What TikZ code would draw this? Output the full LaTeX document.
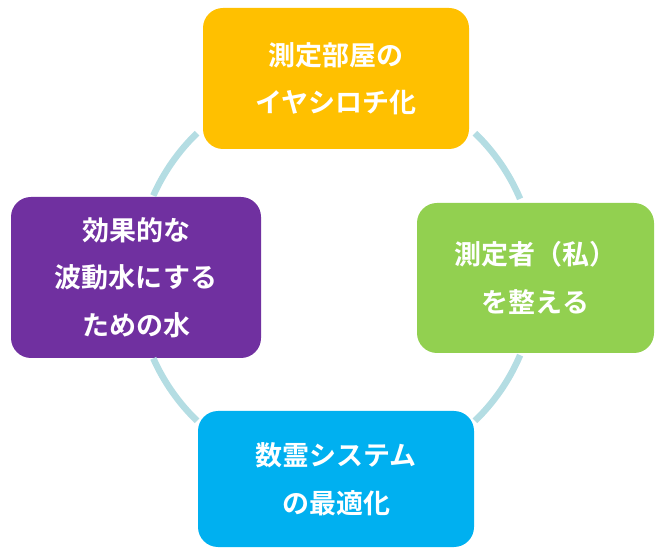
\documentclass[tikz,border=0pt]{standalone}
\usepackage{fontspec}
\newfontfamily\jpfont{Noto Sans CJK JP}[BoldFont={Noto Sans CJK JP Bold}]
\usetikzlibrary{positioning}

\definecolor{roomcol}{HTML}{FFC000}
\definecolor{selfcol}{HTML}{92D050}
\definecolor{syscol}{HTML}{00B0F0}
\definecolor{watercol}{HTML}{7030A0}
\definecolor{arccol}{HTML}{B4DDE3}

\begin{document}
\begin{tikzpicture}[
    x=1pt, y=1pt,
    stagebox/.style={
        rectangle,
        rounded corners=20pt,
        inner sep=0pt,
        align=center,
        text=white,
        font=\jpfont\bfseries\fontsize{27}{47.5}\selectfont
    },
    cyclearc/.style={
        draw=arccol,
        line width=6.5pt
    }
]
    \useasboundingbox (0,0) rectangle (666,554);

    % Nodes
    \node[stagebox, fill=roomcol, minimum width=266pt, minimum height=141pt] (room) at (336,475.5) {測定部屋の\\イヤシロチ化};
    \node[stagebox, fill=selfcol, minimum width=237pt, minimum height=150pt] (self) at (535.5,276) {測定者（私）\\を整える};
    \node[stagebox, fill=syscol, minimum width=276pt, minimum height=136pt] (system) at (336,75) {数霊システム\\の最適化};
    \node[stagebox, fill=watercol, minimum width=250pt, minimum height=161pt] (water) at (136,276.5) {効果的な\\波動水にする\\ための水};

    % Cycle arcs between the boxes
    \coordinate (ctr) at (336,277);
    \draw[cyclearc] ([shift={(46:200)}]ctr) arc[start angle=46, end angle=23, radius=200];
    \draw[cyclearc] ([shift={(-23:200)}]ctr) arc[start angle=-23, end angle=-46, radius=200];
    \draw[cyclearc] ([shift={(226:200)}]ctr) arc[start angle=226, end angle=204, radius=200];
    \draw[cyclearc] ([shift={(156:200)}]ctr) arc[start angle=156, end angle=134, radius=200];
\end{tikzpicture}
\end{document}
